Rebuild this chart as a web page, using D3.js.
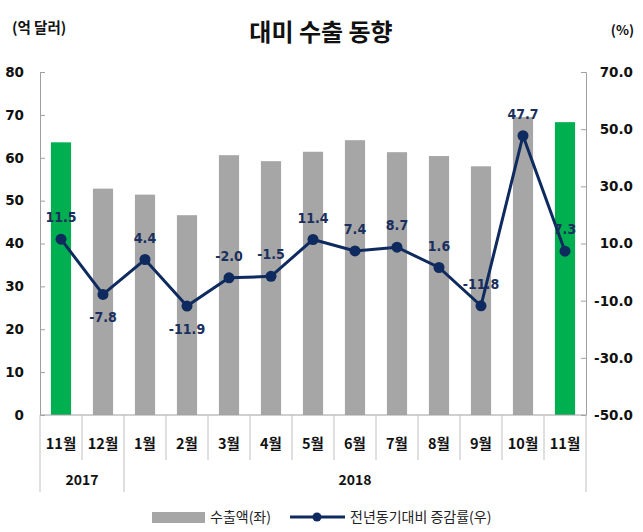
<!DOCTYPE html>
<html><head><meta charset="utf-8">
<script src="https://cdn.jsdelivr.net/npm/d3@7"></script>
<style>body{margin:0;background:#fff}</style>
</head><body><svg id="c" width="643" height="532"></svg>
<script>
const months = ["11월","12월","1월","2월","3월","4월","5월","6월","7월","8월","9월","10월","11월"];
const years = [{label:"2017", from:0, to:2},{label:"2018", from:2, to:13}];
const exportsUSD = [63.6,52.8,51.4,46.6,60.6,59.2,61.4,64.1,61.3,60.4,58.0,69.5,68.3];
const growth = [11.5,-7.8,4.4,-11.9,-2.0,-1.5,11.4,7.4,8.7,1.6,-11.8,47.7,7.3];
const highlight = [true,false,false,false,false,false,false,false,false,false,false,false,true];
const labelBelow = [false,true,false,true,false,false,false,false,false,false,false,false,false];
const leftTicks = [0,10,20,30,40,50,60,70,80];
const rightTicks = [-50,-30,-10,10,30,50,70];

const svg = d3.select("#c");
const L=40, R=586, T=72, B=415;
const fmt1 = v => d3.format(".1f")(v).replace("\u2212","-");
const x = d3.scaleBand().domain(d3.range(months.length)).range([L,R]).paddingInner(0.52).paddingOuter(0.26);
const xb = d3.scaleBand().domain(d3.range(months.length)).range([L,R]);
const yL = d3.scaleLinear().domain([0,80]).range([B,T]);
const yR = d3.scaleLinear().domain([-50,70]).range([B,T]);
const kfont = "'Noto Sans CJK KR', sans-serif";
const nfont = "'DejaVu Sans', Verdana, sans-serif";
const cfont = "'DejaVu Sans Condensed', 'DejaVu Sans', sans-serif";

// bars
svg.append("g").selectAll("rect").data(exportsUSD).join("rect")
  .attr("x",(d,i)=>x(i)).attr("width",x.bandwidth())
  .attr("y",d=>yL(d)).attr("height",d=>B-yL(d))
  .attr("fill",(d,i)=>highlight[i]?"#00b050":"#a6a6a6");

// axes
const gl = svg.append("g").attr("transform",`translate(${L},0)`)
  .call(d3.axisRight(yL).tickValues(leftTicks).tickSize(5).tickFormat(""));
gl.select(".domain").attr("stroke","#a0a0a0");
gl.selectAll(".tick line").attr("stroke","#a0a0a0");
svg.append("g").selectAll("text").data(leftTicks).join("text")
  .attr("x",24).attr("y",d=>yL(d)).attr("dy","0.36em").attr("text-anchor","end")
  .attr("font-family",nfont).attr("font-weight","bold").attr("font-size",13.5).attr("fill","#111")
  .text(d=>d);

const gr = svg.append("g").attr("transform",`translate(${R},0)`)
  .call(d3.axisLeft(yR).tickValues(rightTicks).tickSize(5).tickFormat(""));
gr.select(".domain").attr("stroke","#a0a0a0");
gr.selectAll(".tick line").attr("stroke","#a0a0a0");
svg.append("g").selectAll("text").data(rightTicks).join("text")
  .attr("x",633).attr("y",d=>yR(d)).attr("dy","0.36em").attr("text-anchor","end")
  .attr("font-family",nfont).attr("font-weight","bold").attr("font-size",13.5).attr("fill","#111")
  .text(d=>fmt1(d));

// bottom axis line and separators
svg.append("line").attr("x1",L).attr("x2",R).attr("y1",B).attr("y2",B).attr("stroke","#a0a0a0");
const bounds = d3.range(months.length+1).map(i=> i<months.length? xb(i) : R);
const yearBounds = new Set([0,2,13]);
svg.append("g").selectAll("line").data(bounds).join("line")
  .attr("x1",d=>d).attr("x2",d=>d).attr("y1",B)
  .attr("y2",(d,i)=>yearBounds.has(i)?492:460)
  .attr("stroke","#c0c0c0");
svg.append("g").selectAll("text").data(months).join("text")
  .attr("x",(d,i)=>xb(i)+xb.bandwidth()/2).attr("y",444).attr("dy","0.36em")
  .attr("text-anchor","middle").attr("font-family",kfont).attr("font-weight","bold")
  .attr("font-size",14.5).attr("fill","#111").text(d=>d);
svg.append("g").selectAll("text").data(years).join("text")
  .attr("x",d=>(bounds[d.from]+bounds[d.to])/2).attr("y",480).attr("dy","0.36em")
  .attr("text-anchor","middle").attr("font-family",kfont).attr("font-weight","bold")
  .attr("font-size",14).attr("fill","#111").text(d=>d.label);

// line
const cx = i=>xb(i)+xb.bandwidth()/2;
svg.append("path").datum(growth)
  .attr("d",d3.line().x((d,i)=>cx(i)).y(d=>yR(d)))
  .attr("fill","none").attr("stroke","#0e2a5e").attr("stroke-width",3);
svg.append("g").selectAll("circle").data(growth).join("circle")
  .attr("cx",(d,i)=>cx(i)).attr("cy",d=>yR(d)).attr("r",5.5).attr("fill","#0e2a5e");
svg.append("g").selectAll("text").data(growth).join("text")
  .attr("x",(d,i)=>cx(i)).attr("y",(d,i)=>yR(d)+(labelBelow[i]?23:-22)).attr("dy","0.36em")
  .attr("text-anchor","middle").attr("font-family",cfont).attr("font-weight","bold")
  .attr("font-size",14).attr("fill","#1b2f5e").text(d=>fmt1(d));

// titles
svg.append("text").attr("x",321).attr("y",32).attr("dy","0.36em").attr("text-anchor","middle")
  .attr("font-family",kfont).attr("font-weight","bold").attr("font-size",24).attr("fill","#111").text("대미 수출 동향");
svg.append("text").attr("x",12).attr("y",28).attr("dy","0.36em")
  .attr("font-family",kfont).attr("font-weight","bold").attr("font-size",14.5).attr("fill","#111").text("(억 달러)");
svg.append("text").attr("x",634).attr("y",30).attr("dy","0.36em").attr("text-anchor","end")
  .attr("font-family",kfont).attr("font-weight","bold").attr("font-size",13.5).attr("fill","#111").text("(%)");

// legend
const lg = svg.append("g");
lg.append("rect").attr("x",152).attr("y",512).attr("width",53).attr("height",11).attr("fill","#a6a6a6");
lg.append("text").attr("x",210).attr("y",517).attr("dy","0.36em").attr("font-family",kfont)
  .attr("font-size",14).attr("fill","#222").text("수출액(좌)");
lg.append("line").attr("x1",290).attr("x2",345).attr("y1",517).attr("y2",517).attr("stroke","#0e2a5e").attr("stroke-width",3);
lg.append("circle").attr("cx",317).attr("cy",517).attr("r",4.5).attr("fill","#0e2a5e");
lg.append("text").attr("x",350).attr("y",517).attr("dy","0.36em").attr("font-family",kfont)
  .attr("font-size",14).attr("fill","#222").text("전년동기대비 증감률(우)");
</script></body></html>
